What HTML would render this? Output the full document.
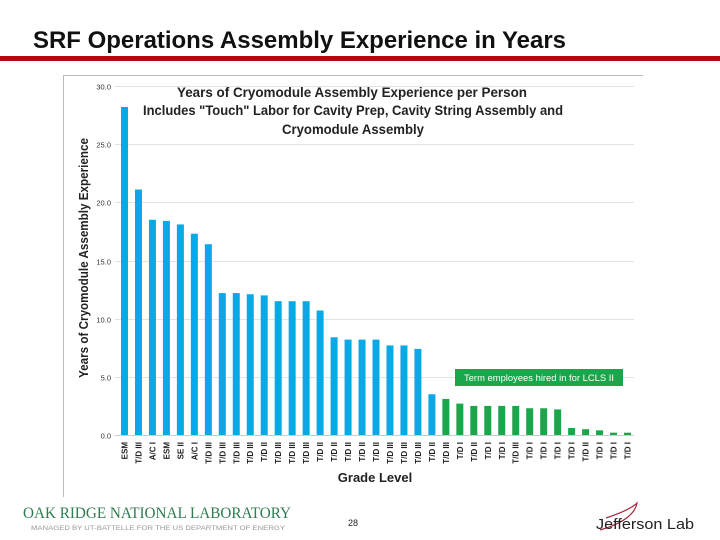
<!DOCTYPE html>
<html><head><meta charset="utf-8"><style>
body{margin:0;width:720px;height:540px;background:#fff;overflow:hidden;font-family:"Liberation Sans",sans-serif}
svg{position:absolute;left:0;top:0}
</style></head><body>
<svg width="720" height="540">
<text x="33" y="48" font-size="24" font-weight="bold" fill="#111" textLength="533" lengthAdjust="spacingAndGlyphs">SRF Operations Assembly Experience in Years</text>
<rect x="0" y="56" width="720" height="5" fill="#b5080e"/>
<line x1="63" y1="75.5" x2="643" y2="75.5" stroke="#bbb"/>
<line x1="63.5" y1="75" x2="63.5" y2="497" stroke="#bbb"/>
<g id="chart"></g>
<text x="352" y="97" text-anchor="middle" font-size="13.5" font-weight="bold" fill="#222" textLength="350" lengthAdjust="spacingAndGlyphs">Years of Cryomodule Assembly Experience per Person</text>
<text x="353" y="115" text-anchor="middle" font-size="13.5" font-weight="bold" fill="#222" textLength="420" lengthAdjust="spacingAndGlyphs">Includes "Touch" Labor for Cavity Prep, Cavity String Assembly and</text>
<text x="353" y="134" text-anchor="middle" font-size="13.5" font-weight="bold" fill="#222" textLength="142" lengthAdjust="spacingAndGlyphs">Cryomodule Assembly</text>
<text transform="translate(88,258) rotate(-90)" text-anchor="middle" font-size="12.5" font-weight="bold" fill="#222" textLength="240" lengthAdjust="spacingAndGlyphs">Years of Cryomodule Assembly Experience</text>
<text x="375" y="482" text-anchor="middle" font-size="13" font-weight="bold" fill="#222">Grade Level</text>
<rect x="455" y="369" width="168" height="17" fill="#1aa64a"/>
<text x="539" y="381" text-anchor="middle" font-size="9" fill="#fff" textLength="150" lengthAdjust="spacingAndGlyphs">Term employees hired in for LCLS II</text>
<text x="23" y="518" font-family="Liberation Serif,serif" font-size="16" fill="#2e7d4f" textLength="268" lengthAdjust="spacingAndGlyphs">OAK RIDGE NATIONAL LABORATORY</text>
<text x="31" y="530" font-size="6.5" fill="#999" textLength="254" lengthAdjust="spacingAndGlyphs">MANAGED BY UT-BATTELLE FOR THE US DEPARTMENT OF ENERGY</text>
<text x="348" y="526" font-size="9" fill="#222">28</text>
<path d="M606 518 Q630 510 637 503 Q634 520 600 530" fill="none" stroke="#a3283a" stroke-width="1.2"/>
<text x="596" y="529" font-size="15" fill="#222" textLength="98" lengthAdjust="spacingAndGlyphs">Jefferson Lab</text>
</svg>
<script>
const categories=["ESM","T/D III","A/C I","ESM","SE II","A/C I","T/D III","T/D III","T/D III","T/D III","T/D II","T/D III","T/D III","T/D III","T/D II","T/D II","T/D II","T/D II","T/D II","T/D III","T/D III","T/D III","T/D II","T/D III","T/D I","T/D II","T/D I","T/D I","T/D III","T/D I","T/D I","T/D I","T/D I","T/D II","T/D I","T/D I","T/D I"];
const values=[28.2,21.1,18.5,18.4,18.1,17.3,16.4,12.2,12.2,12.1,12.0,11.5,11.5,11.5,10.7,8.4,8.2,8.2,8.2,7.7,7.7,7.4,3.5,3.1,2.7,2.5,2.5,2.5,2.5,2.3,2.3,2.2,0.6,0.5,0.4,0.2,0.2];
const termHire=[0,0,0,0,0,0,0,0,0,0,0,0,0,0,0,0,0,0,0,0,0,0,0,1,1,1,1,1,1,1,1,1,1,1,1,1,1];
const yTicks=[0,5,10,15,20,25,30];
const yTickLabels=["0.0","5.0","10.0","15.0","20.0","25.0","30.0"];
const NS="http://www.w3.org/2000/svg";
const g=document.getElementById('chart');
const x0=117.5,x1=634.5,yZero=435,yMax=30,pxPerUnit=(435-86)/30;
const band=(x1-x0)/categories.length;
function xPos(i){return x0+band*(i+0.5);}
function yPos(v){return yZero-v*pxPerUnit;}
function mk(t,a){const e=document.createElementNS(NS,t);for(const k in a)e.setAttribute(k,a[k]);g.appendChild(e);return e;}
yTicks.forEach((t,i)=>{
  const y=Math.round(yPos(t))+0.5;
  const l=mk('line',{x1:115,x2:634,y1:y,y2:y,stroke:t===0?'#ccc':'#e2e2e2'});
  
  
  const tx=mk('text',{x:111,y:y+3,'text-anchor':'end','font-size':7.5,fill:'#333'});
  tx.textContent=yTickLabels[i];
  
  
});
values.forEach((v,i)=>{
  const cx=xPos(i),w=7;
  const r=mk('rect',{x:cx-w/2,y:yPos(v),width:w,height:yZero-yPos(v),fill:termHire[i]?'#1aa64a':'#0aa8e4'});
  
  
  const t=mk('text',{transform:'translate('+(cx+3)+',442) rotate(-90)','text-anchor':'end','font-size':8,'font-weight':'bold',fill:'#222'});
  t.textContent=categories[i];
  
  
});
</script>
</body></html>
